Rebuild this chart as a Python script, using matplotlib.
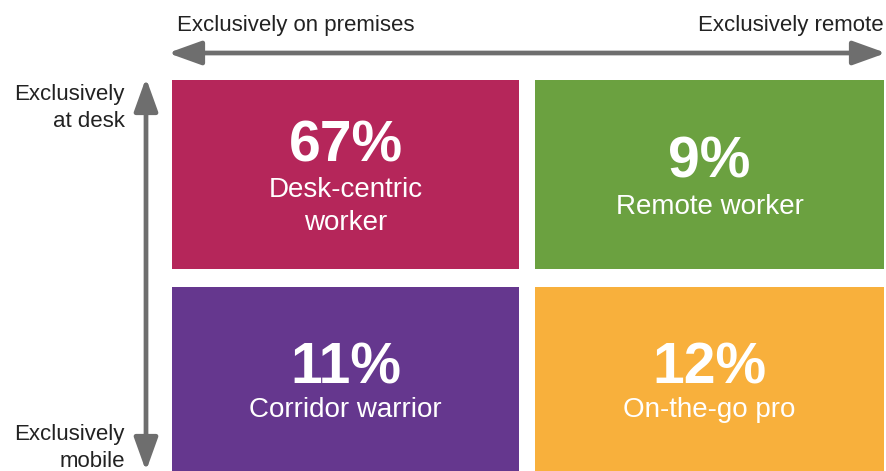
import matplotlib.pyplot as plt
from matplotlib.patches import Rectangle

plt.rcParams['font.family'] = ['Liberation Sans', 'DejaVu Sans']

# quadrant data: top-left, top-right, bottom-left, bottom-right
shares = [67, 9, 11, 12]
labels = ["Desk-centric\nworker", "Remote worker", "Corridor warrior", "On-the-go pro"]
colors = ["#B5265A", "#6BA140", "#65378E", "#F8B03C"]

x_axis = ["Exclusively on premises", "Exclusively remote"]
y_axis = ["Exclusively\nat desk", "Exclusively\nmobile"]

W, H = 886, 471
fig = plt.figure(figsize=(W / 100, H / 100), dpi=100)
ax = fig.add_axes([0, 0, 1, 1])
ax.set_xlim(0, W)
ax.set_ylim(H, 0)
ax.axis("off")

# box layout in pixels
cols = [(172, 519), (535, 884)]
rows = [(80, 269), (287, 471)]
num_base = [162, 178, 383, 383]
lab_base = [197, 214, 417, 417]
line_gap = 33

for i, (s, lab, c) in enumerate(zip(shares, labels, colors)):
    x0, x1 = cols[i % 2]
    y0, y1 = rows[i // 2]
    ax.add_patch(Rectangle((x0, y0), x1 - x0, y1 - y0, color=c, lw=0))
    cx = (x0 + x1) / 2
    ax.text(cx, num_base[i], f"{s}%", color="white", fontsize=41, fontweight="bold",
            ha="center", va="baseline")
    for j, line in enumerate(lab.split("\n")):
        ax.text(cx, lab_base[i] + j * line_gap, line, color="white", fontsize=20,
                ha="center", va="baseline")

gray = "#6E6E6E"
style = "<|-|>,head_length=1.0,head_width=0.36"
ax.annotate("", xy=(886, 53), xytext=(168, 53),
            arrowprops=dict(arrowstyle=style, color=gray, lw=3.4, mutation_scale=20,
                            shrinkA=0, shrinkB=0))
ax.annotate("", xy=(146, 78), xytext=(146, 471),
            arrowprops=dict(arrowstyle=style, color=gray, lw=3.4, mutation_scale=20,
                            shrinkA=0, shrinkB=0))

txt = "#222222"
ax.text(177, 31, x_axis[0], fontsize=16, color=txt, ha="left", va="baseline")
ax.text(884, 31, x_axis[1], fontsize=16, color=txt, ha="right", va="baseline")
for j, line in enumerate(y_axis[0].split("\n")):
    ax.text(125, 100 + j * 27, line, fontsize=16, color=txt, ha="right", va="baseline")
for j, line in enumerate(y_axis[1].split("\n")):
    ax.text(125, 440 + j * 27, line, fontsize=16, color=txt, ha="right", va="baseline")

fig.savefig("out.png", dpi=100)
